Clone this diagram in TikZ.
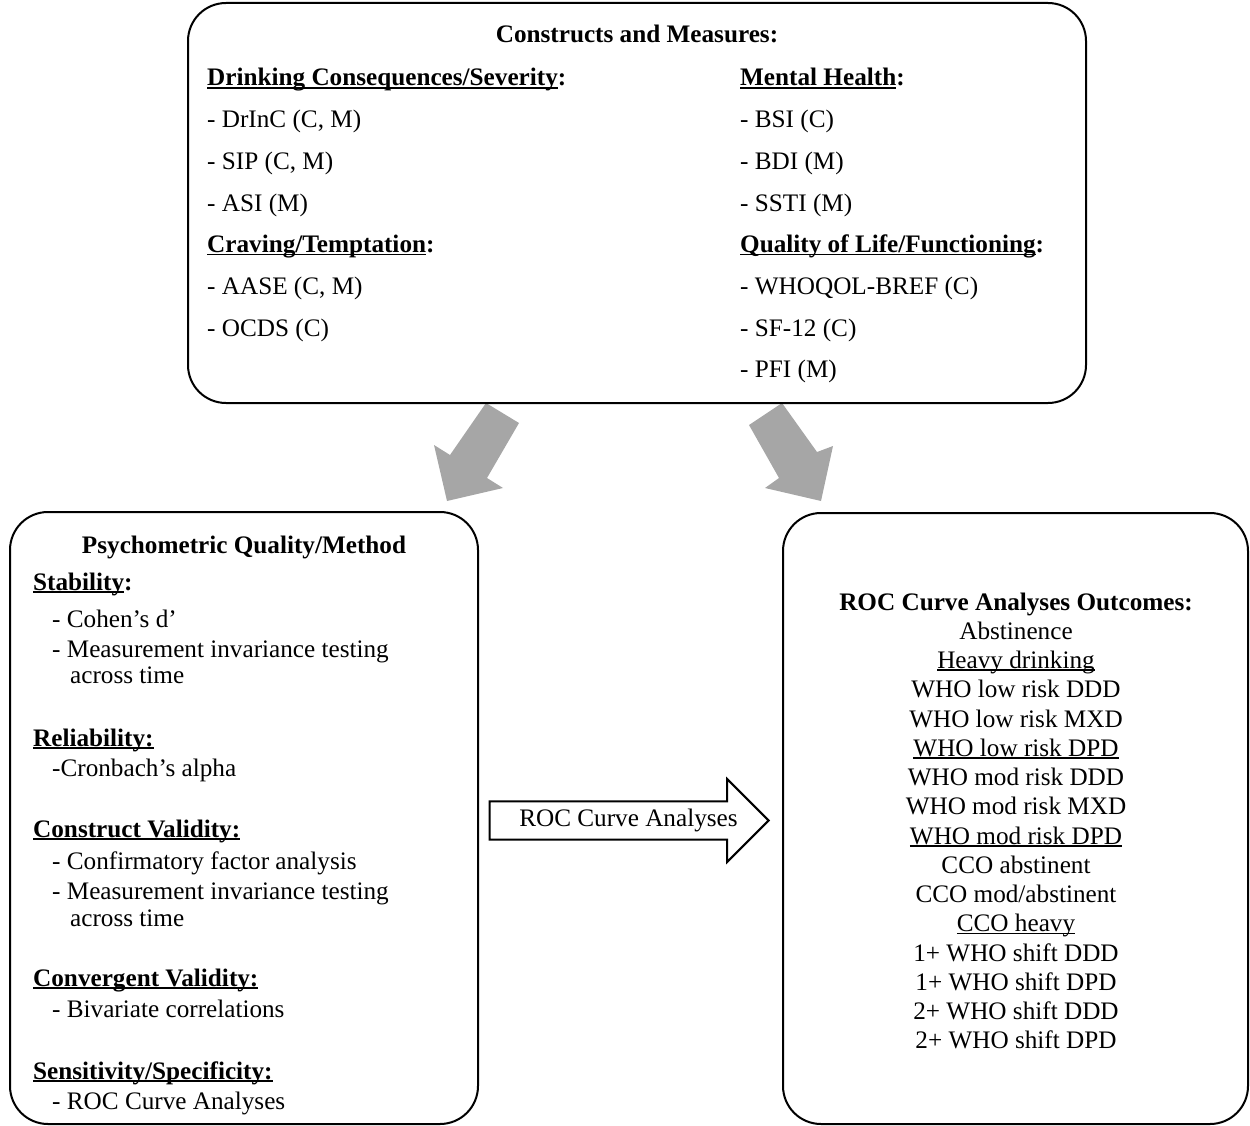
\documentclass[tikz,border=0pt]{standalone}
\usepackage{fontspec}
\setmainfont{Liberation Serif}
\usetikzlibrary{shapes.arrows}
\definecolor{arrgray}{HTML}{A6A6A6}
\newcommand\fs{\fontsize{25.2}{29.25}\selectfont}
\newcommand\ulx[1]{\leavevmode\setbox0\hbox{#1}\rlap{\rule[-0.1em]{\wd0}{0.065em}}\box0}
\begin{document}
\begin{tikzpicture}[x=1pt,y=-1pt,
  box/.style={draw,line width=2pt,rounded corners=38pt,inner sep=0pt,fill=white},
  txt/.style={anchor=base west,inner sep=0pt,font=\fs},
  ctr/.style={anchor=base,inner sep=0pt,font=\fs},
  blockarrow/.style={fill=arrgray,draw=none},
  rocarrow/.style={single arrow,draw,line width=2pt,font=\fs,inner xsep=0pt,inner ysep=6pt,
    minimum height=279pt,minimum width=83pt,single arrow head extend=21.5pt}]
\useasboundingbox (0,0) rectangle (1250,1126);
% gray block arrows
\fill[blockarrow] (486,403) -- (450,455) -- (434,445) -- (447,501) -- (503,488) -- (487,478) -- (519,423) -- cycle;
\fill[blockarrow] (749,425) -- (782,403) -- (817,452) -- (833,446) -- (821,501) -- (765,488) -- (779,478) -- cycle;
% boxes
\node[box,minimum width=898pt,minimum height=400pt] (top) at (637,203) {};
\node[box,minimum width=468pt,minimum height=612pt] (left) at (244,818) {};
\node[box,minimum width=465pt,minimum height=611pt] (right) at (1015.5,818.5) {};
% top box text
\node[ctr] (t0) at (637,43) {\bfseries Constructs and Measures:};
\node[txt] (a1) at (207,86) {\textbf{\ulx{Drinking Consequences/Severity}:}};
\node[txt] (a2) at (207,127.7) {- DrInC (C, M)};
\node[txt] (a3) at (207,169.4) {- SIP (C, M)};
\node[txt] (a4) at (207,211.1) {- ASI (M)};
\node[txt] (a5) at (207,252.8) {\textbf{\ulx{Craving/Temptation}:}};
\node[txt] (a6) at (207,294.5) {- AASE (C, M)};
\node[txt] (a7) at (207,336.2) {- OCDS (C)};
\node[txt] (b1) at (740,86) {\textbf{\ulx{Mental Health}:}};
\node[txt] (b2) at (740,127.7) {- BSI (C)};
\node[txt] (b3) at (740,169.4) {- BDI (M)};
\node[txt] (b4) at (740,211.1) {- SSTI (M)};
\node[txt] (b5) at (740,252.8) {\textbf{\ulx{Quality of Life/Functioning}:}};
\node[txt] (b6) at (740,294.5) {- WHOQOL-BREF (C)};
\node[txt] (b7) at (740,336.2) {- SF-12 (C)};
\node[txt] (b8) at (740,377.9) {- PFI (M)};
% left box text
\node[ctr] (l0) at (244,553) {\bfseries Psychometric Quality/Method};
\node[txt] (l1) at (33,590) {\textbf{\ulx{Stability}:}};
\node[txt] (l2) at (52,627) {- Cohen’s d’};
\node[txt] (l3) at (52,657) {- Measurement invariance testing};
\node[txt] (l4) at (70,683) {across time};
\node[txt] (l5) at (33,746) {\textbf{\ulx{Reliability:}}};
\node[txt] (l6) at (52,776) {-Cronbach’s alpha};
\node[txt] (l7) at (33,837) {\textbf{\ulx{Construct Validity:}}};
\node[txt] (l8) at (52,869) {- Confirmatory factor analysis};
\node[txt] (l9) at (52,899) {- Measurement invariance testing};
\node[txt] (l10) at (70,926) {across time};
\node[txt] (l11) at (33,986) {\textbf{\ulx{Convergent Validity:}}};
\node[txt] (l12) at (52,1017) {- Bivariate correlations};
\node[txt] (l13) at (33,1079) {\textbf{\ulx{Sensitivity/Specificity:}}};
\node[txt] (l14) at (52,1109) {- ROC Curve Analyses};
% right box text
\node[ctr] (r0) at (1016,610) {\bfseries ROC Curve Analyses Outcomes:};
\node[ctr] (r1) at (1016,639.25) {Abstinence};
\node[ctr] (r2) at (1016,668.5) {\ulx{Heavy drinking}};
\node[ctr] (r3) at (1016,697.75) {WHO low risk DDD};
\node[ctr] (r4) at (1016,727) {WHO low risk MXD};
\node[ctr] (r5) at (1016,756.25) {\ulx{WHO low risk DPD}};
\node[ctr] (r6) at (1016,785.5) {WHO mod risk DDD};
\node[ctr] (r7) at (1016,814.75) {WHO mod risk MXD};
\node[ctr] (r8) at (1016,844) {\ulx{WHO mod risk DPD}};
\node[ctr] (r9) at (1016,873.25) {CCO abstinent};
\node[ctr] (r10) at (1016,902.5) {CCO mod/abstinent};
\node[ctr] (r11) at (1016,931.75) {\ulx{CCO heavy}};
\node[ctr] (r12) at (1016,961) {1+ WHO shift DDD};
\node[ctr] (r13) at (1016,990.25) {1+ WHO shift DPD};
\node[ctr] (r14) at (1016,1019.5) {2+ WHO shift DDD};
\node[ctr] (r15) at (1016,1048.75) {2+ WHO shift DPD};
% middle arrow
\node[rocarrow,anchor=tip] (roc) at (770,820.5) {\hspace*{18pt}ROC Curve Analyses};
\end{tikzpicture}
\end{document}
